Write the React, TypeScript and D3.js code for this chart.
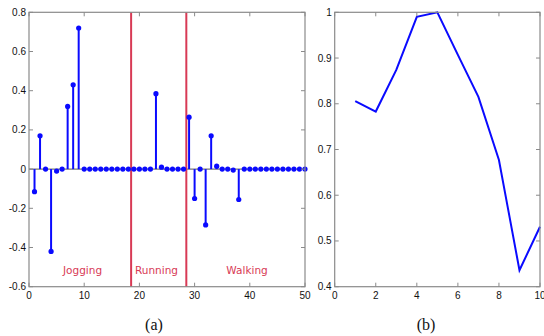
import { useEffect, useRef } from "react";
import * as d3 from "d3";

// panel (a): stem coefficients for indices 1..50
const stemValues = [
  -0.115, 0.17, 0, -0.42, -0.01, 0, 0.32, 0.43, 0.72, 0,
  0, 0, 0, 0, 0, 0, 0, 0, 0, 0,
  0, 0, 0.385, 0.01, 0, 0, 0, 0, 0.265, -0.15,
  0, -0.285, 0.17, 0.015, 0, 0, -0.005, -0.155, 0, 0,
  0, 0, 0, 0, 0, 0, 0, 0, 0, 0,
];
const dividers = [18.5, 28.5];
const activities = [
  { label: "Jogging", x: 9.7 },
  { label: "Running", x: 23.1 },
  { label: "Walking", x: 39.5 },
];
const stemXTicks = [0, 10, 20, 30, 40, 50];
const stemYTicks = [-0.6, -0.4, -0.2, 0, 0.2, 0.4, 0.6, 0.8];

// panel (b): curve for 1..10
const curveValues = [0.806, 0.783, 0.874, 0.99, 1.0, 0.907, 0.815, 0.677, 0.436, 0.531];
const curveXTicks = [0, 2, 4, 6, 8, 10];
const curveYTicks = [0.4, 0.5, 0.6, 0.7, 0.8, 0.9, 1];

const BLUE = "#0a0aff";
const RED = "#d83a55";
const FRAME = "#8a8a8a";
const TICK_FONT = "'Liberation Sans', Arial, sans-serif";

const fmt = (d: number) => (d === 0 ? "0" : d === 1 ? "1" : d.toFixed(1));

export default function App() {
  const svgRef = useRef<SVGSVGElement>(null);

  useEffect(() => {
    if (!svgRef.current) return;
    const svg = d3.select(svgRef.current);
    svg.selectAll("*").remove();

    const top = 12.3;
    const bottom = 286.7;

    const frame = (
      g: d3.Selection<SVGGElement, unknown, null, undefined>,
      x: d3.ScaleLinear<number, number>,
      y: d3.ScaleLinear<number, number>,
      xTicks: number[],
      yTicks: number[]
    ) => {
      const [x0, x1] = x.range();
      const [y0, y1] = y.range();
      g.append("rect")
        .attr("x", x0)
        .attr("y", y1)
        .attr("width", x1 - x0)
        .attr("height", y0 - y1)
        .attr("fill", "none")
        .attr("stroke", FRAME)
        .attr("stroke-width", 1.2);
      xTicks.forEach((t) => {
        g.append("line").attr("x1", x(t)).attr("x2", x(t)).attr("y1", y0).attr("y2", y0 - 4).attr("stroke", FRAME);
        g.append("line").attr("x1", x(t)).attr("x2", x(t)).attr("y1", y1).attr("y2", y1 + 4).attr("stroke", FRAME);
        g.append("text")
          .attr("x", x(t))
          .attr("y", y0 + 12)
          .attr("text-anchor", "middle")
          .attr("font-family", TICK_FONT)
          .attr("font-size", 10)
          .attr("fill", "#111")
          .text(String(t));
      });
      yTicks.forEach((t) => {
        g.append("line").attr("x1", x0).attr("x2", x0 + 4).attr("y1", y(t)).attr("y2", y(t)).attr("stroke", FRAME);
        g.append("line").attr("x1", x1).attr("x2", x1 - 4).attr("y1", y(t)).attr("y2", y(t)).attr("stroke", FRAME);
        g.append("text")
          .attr("x", x0 - 3)
          .attr("y", y(t) + 3.5)
          .attr("text-anchor", "end")
          .attr("font-family", TICK_FONT)
          .attr("font-size", 10)
          .attr("fill", "#111")
          .text(fmt(t));
      });
    };

    // ---- panel (a)
    const xa = d3.scaleLinear().domain([0, 50]).range([29, 305]);
    const ya = d3.scaleLinear().domain([-0.6, 0.8]).range([bottom, top]);
    const ga = svg.append("g");

    // baseline
    ga.append("line")
      .attr("x1", xa(0))
      .attr("x2", xa(50))
      .attr("y1", ya(0))
      .attr("y2", ya(0))
      .attr("stroke", "#555")
      .attr("stroke-width", 1);

    dividers.forEach((d) => {
      ga.append("line")
        .attr("x1", xa(d))
        .attr("x2", xa(d))
        .attr("y1", ya(0.8))
        .attr("y2", ya(-0.6))
        .attr("stroke", RED)
        .attr("stroke-width", 2);
    });

    const stems = stemValues.map((v, i) => ({ i: i + 1, v }));
    ga.selectAll("line.stem")
      .data(stems)
      .join("line")
      .attr("class", "stem")
      .attr("x1", (d) => xa(d.i))
      .attr("x2", (d) => xa(d.i))
      .attr("y1", ya(0))
      .attr("y2", (d) => ya(d.v))
      .attr("stroke", BLUE)
      .attr("stroke-width", 2);
    ga.selectAll("circle")
      .data(stems)
      .join("circle")
      .attr("cx", (d) => xa(d.i))
      .attr("cy", (d) => ya(d.v))
      .attr("r", 2.6)
      .attr("fill", BLUE);

    activities.forEach((a) => {
      ga.append("text")
        .attr("x", xa(a.x))
        .attr("y", ya(-0.515) + 4)
        .attr("text-anchor", "middle")
        .attr("font-family", "'DejaVu Sans', sans-serif")
        .attr("font-size", 10.5)
        .attr("fill", RED)
        .text(a.label);
    });

    frame(ga, xa, ya, stemXTicks, stemYTicks);

    // ---- panel (b)
    const xb = d3.scaleLinear().domain([0, 10]).range([334.7, 540]);
    const yb = d3.scaleLinear().domain([0.4, 1]).range([bottom, top]);
    const gb = svg.append("g");

    const line = d3
      .line<number>()
      .x((_, i) => xb(i + 1))
      .y((d) => yb(d));
    gb.append("path")
      .datum(curveValues)
      .attr("d", line)
      .attr("fill", "none")
      .attr("stroke", BLUE)
      .attr("stroke-width", 2);

    frame(gb, xb, yb, curveXTicks, curveYTicks);

    // captions
    [
      { t: "(a)", x: 154 },
      { t: "(b)", x: 426 },
    ].forEach((c) => {
      svg
        .append("text")
        .attr("x", c.x)
        .attr("y", 330)
        .attr("text-anchor", "middle")
        .attr("font-family", "'Liberation Serif', 'Times New Roman', serif")
        .attr("font-size", 16)
        .attr("fill", "#111")
        .text(c.t);
    });
  }, []);

  return (
    <svg
      ref={svgRef}
      width={544}
      height={336}
      style={{ position: "absolute", left: 0, top: 0, background: "#fff" }}
    />
  );
}
